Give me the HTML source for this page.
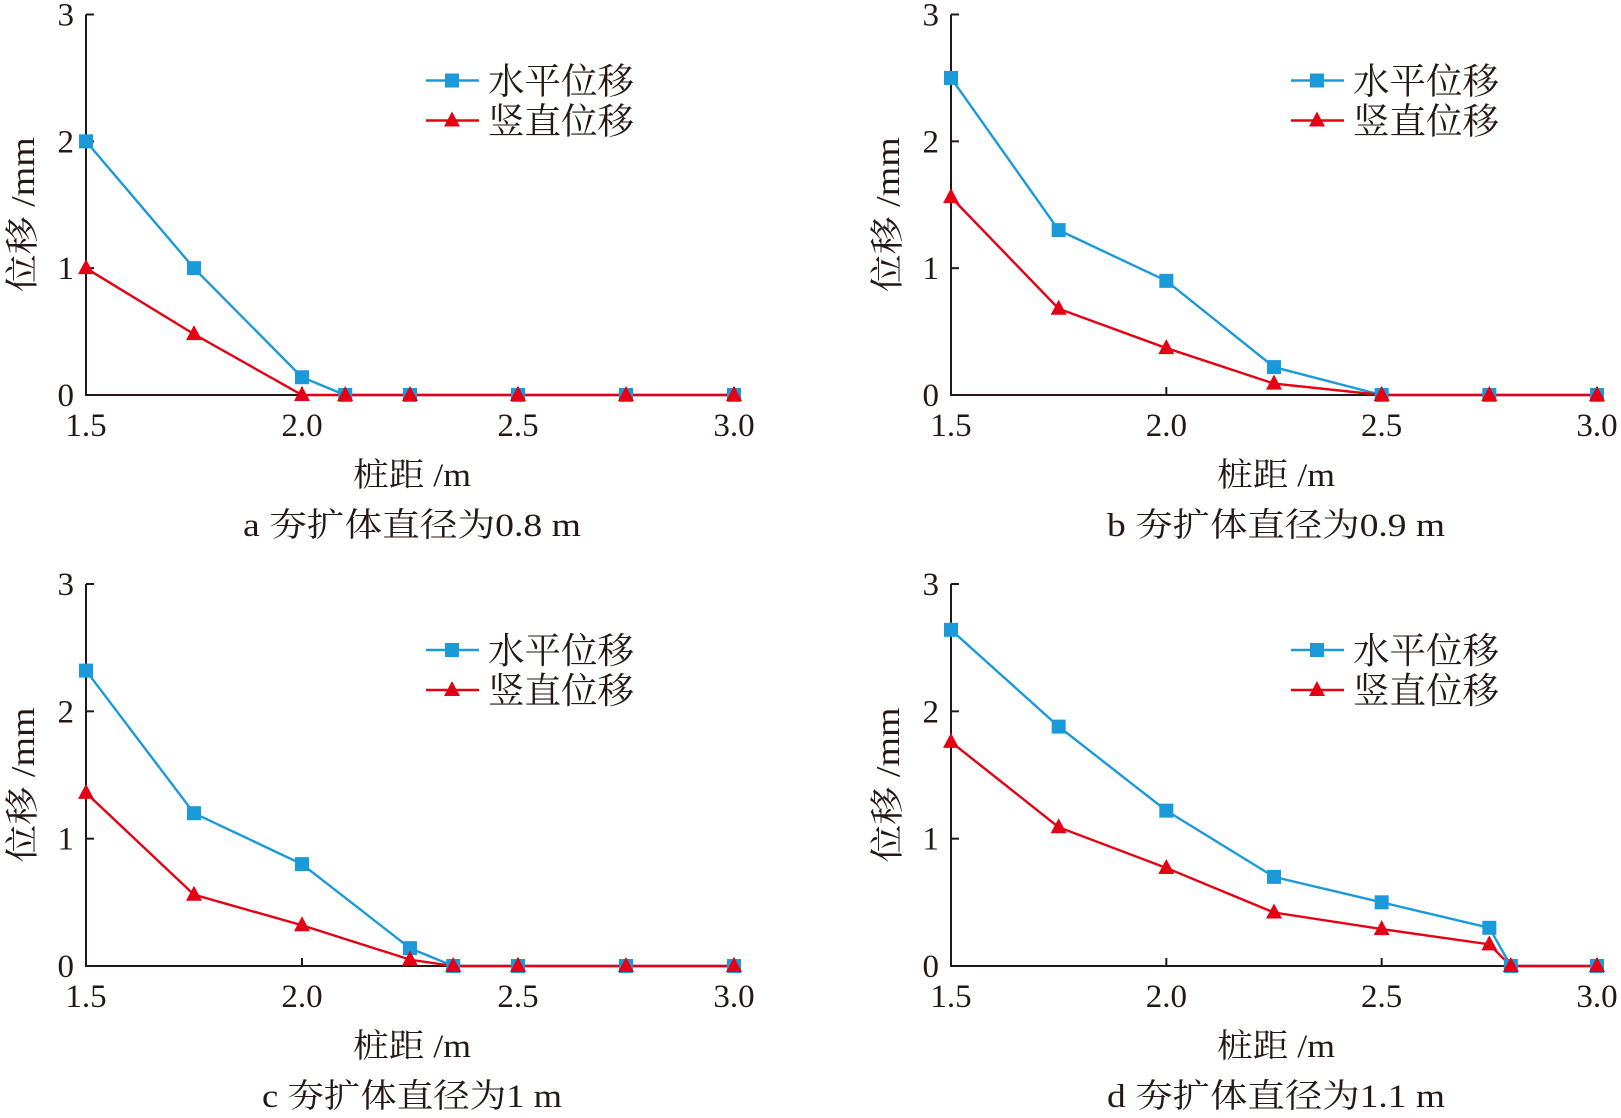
<!DOCTYPE html>
<html><head><meta charset="utf-8"><style>
html,body{margin:0;padding:0;background:#fff;}
svg text{font-family:"Liberation Serif","Noto Serif CJK SC",serif;fill:#231815;}
</style></head><body>
<svg id="chart" width="1621" height="1113" viewBox="0 0 1621 1113" xmlns="http://www.w3.org/2000/svg"></svg>
<script>
const panelCaptions = ["a 夯扩体直径为0.8 m","b 夯扩体直径为0.9 m","c 夯扩体直径为1 m","d 夯扩体直径为1.1 m"];
const xA = [1.5,1.75,2.0,2.1,2.25,2.5,2.75,3.0];
const hA = [2.0,1.0,0.14,0,0,0,0,0];
const vA = [1.0,0.48,0,0,0,0,0,0];
const xB = [1.5,1.75,2.0,2.25,2.5,2.75,3.0];
const hB = [2.5,1.3,0.9,0.22,0,0,0];
const vB = [1.56,0.68,0.37,0.09,0,0,0];
const xC = [1.5,1.75,2.0,2.25,2.35,2.5,2.75,3.0];
const hC = [2.32,1.2,0.8,0.14,0,0,0,0];
const vC = [1.36,0.56,0.32,0.05,0,0,0,0];
const xD = [1.5,1.75,2.0,2.25,2.5,2.75,2.8,3.0];
const hD = [2.64,1.88,1.22,0.70,0.50,0.30,0,0];
const vD = [1.76,1.09,0.77,0.42,0.29,0.17,0,0];
const xTicks = [1.5,2.0,2.5,3.0];
const xTickLabels = ["1.5","2.0","2.5","3.0"];
const yTicks = [0,1,2,3];
const yTickLabels = ["0","1","2","3"];

const NS="http://www.w3.org/2000/svg";
const svg=document.getElementById('chart');
function mk(tag,attrs,parent){const e=document.createElementNS(NS,tag);for(const k in attrs)e.setAttribute(k,attrs[k]);(parent||svg).appendChild(e);return e;}
const BLUE="#1b9ad9", RED="#e50014";
const panels=[
 {x0:86,x1:734,yT:14.5,yB:395,xs:xA,h:hA,v:vA,id:'a'},
 {x0:951,x1:1597,yT:14.5,yB:395,xs:xB,h:hB,v:vB,id:'b'},
 {x0:86,x1:734,yT:584,yB:966,xs:xC,h:hC,v:vC,id:'c'},
 {x0:951,x1:1597,yT:584,yB:966,xs:xD,h:hD,v:vD,id:'d'}];
panels.forEach((p,pi)=>{
 const g=mk('g',{});
 
 
 const sx=x=>p.x0+(x-1.5)/1.5*(p.x1-p.x0);
 const sy=y=>p.yB-y/3*(p.yB-p.yT);
 const ax=mk('path',{d:`M${p.x0} ${p.yT}V${p.yB}H${p.x1}`,fill:'none',stroke:'#231815','stroke-width':2},g);
 
 
 yTicks.forEach((t,i)=>{
  mk('line',{x1:p.x0,x2:p.x0+8,y1:sy(t),y2:sy(t),stroke:'#231815','stroke-width':2},g);
  const tx=mk('text',{x:p.x0-12,y:sy(t)+11,'font-size':33,'text-anchor':'end'},g);
  tx.textContent=yTickLabels[i];
  
  
 });
 xTicks.forEach((t,i)=>{
  mk('line',{x1:sx(t),x2:sx(t),y1:p.yB,y2:p.yB-8,stroke:'#231815','stroke-width':2},g);
  const tx=mk('text',{x:sx(t),y:p.yB+41,'font-size':33,'text-anchor':'middle'},g);
  tx.textContent=xTickLabels[i];
  
  
 });
 const cx=(p.x0+p.x1)/2+2;
 const xt=mk('text',{x:cx,y:p.yB+91,'font-size':33,'text-anchor':'middle',textLength:118,lengthAdjust:'spacingAndGlyphs'},g);
 xt.textContent='桩距 /m';
 
 
 const cap=mk('text',{x:cx,y:p.yB+141,'font-size':33,'text-anchor':'middle',textLength:pi==2?300:338,lengthAdjust:'spacingAndGlyphs'},g);
 cap.textContent=panelCaptions[pi];
 
 
 const yl=p.x0-52, ym=(p.yT+p.yB)/2+10;
 const yt=mk('text',{x:0,y:0,'font-size':34,'text-anchor':'middle',transform:`translate(${yl},${ym}) rotate(-90)`,textLength:155,lengthAdjust:'spacingAndGlyphs'},g);
 yt.textContent='位移 /mm';
 
 
 const hp=mk('polyline',{points:p.xs.map((x,i)=>sx(x)+','+sy(p.h[i])).join(' '),fill:'none',stroke:BLUE,'stroke-width':2.4},g);
 
 
 const vp=mk('polyline',{points:p.xs.map((x,i)=>sx(x)+','+sy(p.v[i])).join(' '),fill:'none',stroke:RED,'stroke-width':2.4},g);
 
 
 p.xs.forEach((x,i)=>{
  const r=mk('rect',{x:sx(x)-7,y:sy(p.h[i])-7,width:14,height:14,fill:BLUE},g);
  
  
 });
 p.xs.forEach((x,i)=>{
  const X=sx(x),Y=sy(p.v[i]);
  const t=mk('polygon',{points:`${X},${Y-9} ${X-8},${Y+6} ${X+8},${Y+6}`,fill:RED},g);
  
  
 });
 const lx=p.x0+340, ly=p.yT+66;
 const lg=mk('g',{},g);
 
 
 mk('line',{x1:lx,x2:lx+53,y1:ly,y2:ly,stroke:BLUE,'stroke-width':2.4},lg);
 mk('rect',{x:lx+19,y:ly-7,width:14,height:14,fill:BLUE},lg);
 const t1=mk('text',{x:lx+62,y:ly+13,'font-size':36,textLength:146,lengthAdjust:'spacingAndGlyphs'},lg);
 t1.textContent='水平位移';
 
 
 mk('line',{x1:lx,x2:lx+53,y1:ly+40,y2:ly+40,stroke:RED,'stroke-width':2.4},lg);
 mk('polygon',{points:`${lx+26},${ly+31} ${lx+18},${ly+46} ${lx+34},${ly+46}`,fill:RED},lg);
 const t2=mk('text',{x:lx+62,y:ly+53,'font-size':36,textLength:146,lengthAdjust:'spacingAndGlyphs'},lg);
 t2.textContent='竖直位移';
 
 
});
</script>
</body></html>
